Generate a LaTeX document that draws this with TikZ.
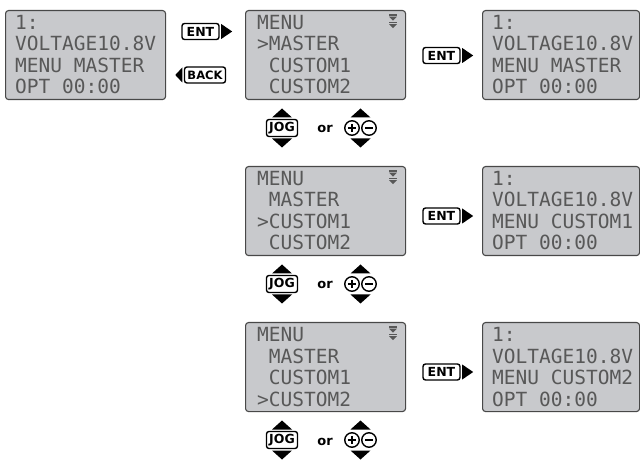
\documentclass[tikz,border=0pt]{standalone}
\usepackage{fontspec}
\newfontfamily\lcdfont{DejaVu Sans Mono}
\newfontfamily\btnfont{DejaVu Sans}
\definecolor{lcdfill}{RGB}{200,201,204}
\definecolor{lcdborder}{RGB}{72,72,72}
\definecolor{lcdtext}{RGB}{88,88,88}
\usetikzlibrary{calc}
\begin{document}
\begin{tikzpicture}[x=1pt,y=-1pt,
  lcd/.style={draw=lcdborder, fill=lcdfill, line width=1.1pt, rounded corners=3pt,
    minimum width=160pt, minimum height=89pt, anchor=north west, inner sep=0},
  lcdtxt/.style={anchor=base west, inner sep=0, text=lcdtext,
    font=\lcdfont\fontsize{19.5}{20}\selectfont},
  btn/.style={draw=black, fill=white, line width=1.4pt, rounded corners=2.5pt,
    inner sep=0, minimum height=16pt, font=\btnfont\bfseries\fontsize{12.5}{12.5}\selectfont},
  btntxt/.style={inner sep=0, font=\btnfont\bfseries\fontsize{13}{13}\selectfont},
  keycirc/.style={circle, draw=black, line width=1.4pt, minimum size=14.5pt, inner sep=0},
  pics/entkey/.style={code={
    \node[btn, minimum width=37pt] (-b) at (0,0) {ENT};
    \fill ($(-b.east)+(1.5,-7.5)$) -- ++(11,7.5) -- ++(-11,7.5) -- cycle;
  }},
  pics/backkey/.style={code={
    \node[btn, minimum width=41pt, font=\btnfont\bfseries\fontsize{11.5}{11.5}\selectfont] (-b) at (0,0) {BACK};
    \fill ($(-b.west)+(-1.5,-7.5)$) -- ++(-7,7.5) -- ++(7,7.5) -- cycle;
  }},
  pics/jogkeys/.style={code={
    \node[btn, minimum width=31pt, minimum height=17pt] (-jog) at (0,0) {JOG};
    \fill (-10,-10.5) -- (0,-19.5) -- (10,-10.5) -- cycle;
    \fill (-10,10.5) -- (0,19.5) -- (10,10.5) -- cycle;
    \node[btntxt, anchor=base] (-or) at (43,5) {or};
    \node[keycirc] (-plus) at (70,0) {};
    \node[keycirc] (-minus) at (87,0) {};
    \draw[line width=2.3pt] ($(-plus.center)+(-4.2,0)$) -- ($(-plus.center)+(4.2,0)$);
    \draw[line width=2.3pt] ($(-plus.center)+(0,-4.2)$) -- ($(-plus.center)+(0,4.2)$);
    \draw[line width=2.3pt] ($(-minus.center)+(-3.6,0)$) -- ($(-minus.center)+(3.6,0)$);
    \fill (68.5,-10.5) -- (78.5,-19.5) -- (88.5,-10.5) -- cycle;
    \fill (68.5,10.5) -- (78.5,19.5) -- (88.5,10.5) -- cycle;
  }},
  pics/scrollicon/.style={code={
    \fill[lcdtext] (-4,0) rectangle (4,1.6);
    \fill[lcdtext] (-4,2.6) -- (4,2.6) -- (0,6.6) -- cycle;
    \fill[lcdtext] (-4,7.6) rectangle (4,9.2);
    \fill[lcdtext] (-4,10.2) -- (4,10.2) -- (0,14.2) -- cycle;
  }}
]
\useasboundingbox (0,0) rectangle (640,462);

% ---------- row 1 ----------
\node[lcd] (s1) at (5,10) {};
\node[lcdtxt] (s1a) at (15,29.5) {1:};
\node[lcdtxt] (s1b) at (15,51) {VOLTAGE10.8V};
\node[lcdtxt] (s1c) at (15,72.5) {MENU MASTER};
\node[lcdtxt] (s1d) at (15,94) {OPT 00:00};

\pic (ent0) at (200.5,31.5) {entkey};
\pic (back0) at (205,75) {backkey};

\node[lcd] (m1) at (245,10) {};
\node[lcdtxt] (m1a) at (257,29.5) {MENU};
\node[lcdtxt] (m1b) at (257,51) {>MASTER};
\node[lcdtxt] (m1c) at (257,72.5) {\phantom{>}CUSTOM1};
\node[lcdtxt] (m1d) at (257,94) {\phantom{>}CUSTOM2};
\pic at (393,14) {scrollicon};

\pic (ent1) at (441.5,55.5) {entkey};

\node[lcd, minimum width=157pt] (r1) at (482,10) {};
\node[lcdtxt] (r1a) at (492,29.5) {1:};
\node[lcdtxt] (r1b) at (492,51) {VOLTAGE10.8V};
\node[lcdtxt] (r1c) at (492,72.5) {MENU MASTER};
\node[lcdtxt] (r1d) at (492,94) {OPT 00:00};

\pic (jog1) at (282,128) {jogkeys};

% ---------- row 2 ----------
\node[lcd] (m2) at (245,166) {};
\node[lcdtxt] (m2a) at (257,185.5) {MENU};
\node[lcdtxt] (m2b) at (257,207) {\phantom{>}MASTER};
\node[lcdtxt] (m2c) at (257,228.5) {>CUSTOM1};
\node[lcdtxt] (m2d) at (257,250) {\phantom{>}CUSTOM2};
\pic at (393,170) {scrollicon};

\pic (ent2) at (441.5,216) {entkey};

\node[lcd, minimum width=157pt] (r2) at (482,166) {};
\node[lcdtxt] (r2a) at (492,185.5) {1:};
\node[lcdtxt] (r2b) at (492,207) {VOLTAGE10.8V};
\node[lcdtxt] (r2c) at (492,228.5) {MENU CUSTOM1};
\node[lcdtxt] (r2d) at (492,250) {OPT 00:00};

\pic (jog2) at (282,284) {jogkeys};

% ---------- row 3 ----------
\node[lcd] (m3) at (245,322) {};
\node[lcdtxt] (m3a) at (257,341.5) {MENU};
\node[lcdtxt] (m3b) at (257,363) {\phantom{>}MASTER};
\node[lcdtxt] (m3c) at (257,384.5) {\phantom{>}CUSTOM1};
\node[lcdtxt] (m3d) at (257,406) {>CUSTOM2};
\pic at (393,326) {scrollicon};

\pic (ent3) at (441.5,372) {entkey};

\node[lcd, minimum width=157pt] (r3) at (482,322) {};
\node[lcdtxt] (r3a) at (492,341.5) {1:};
\node[lcdtxt] (r3b) at (492,363) {VOLTAGE10.8V};
\node[lcdtxt] (r3c) at (492,384.5) {MENU CUSTOM2};
\node[lcdtxt] (r3d) at (492,406) {OPT 00:00};

\pic (jog3) at (282,440) {jogkeys};
\end{tikzpicture}
\end{document}
